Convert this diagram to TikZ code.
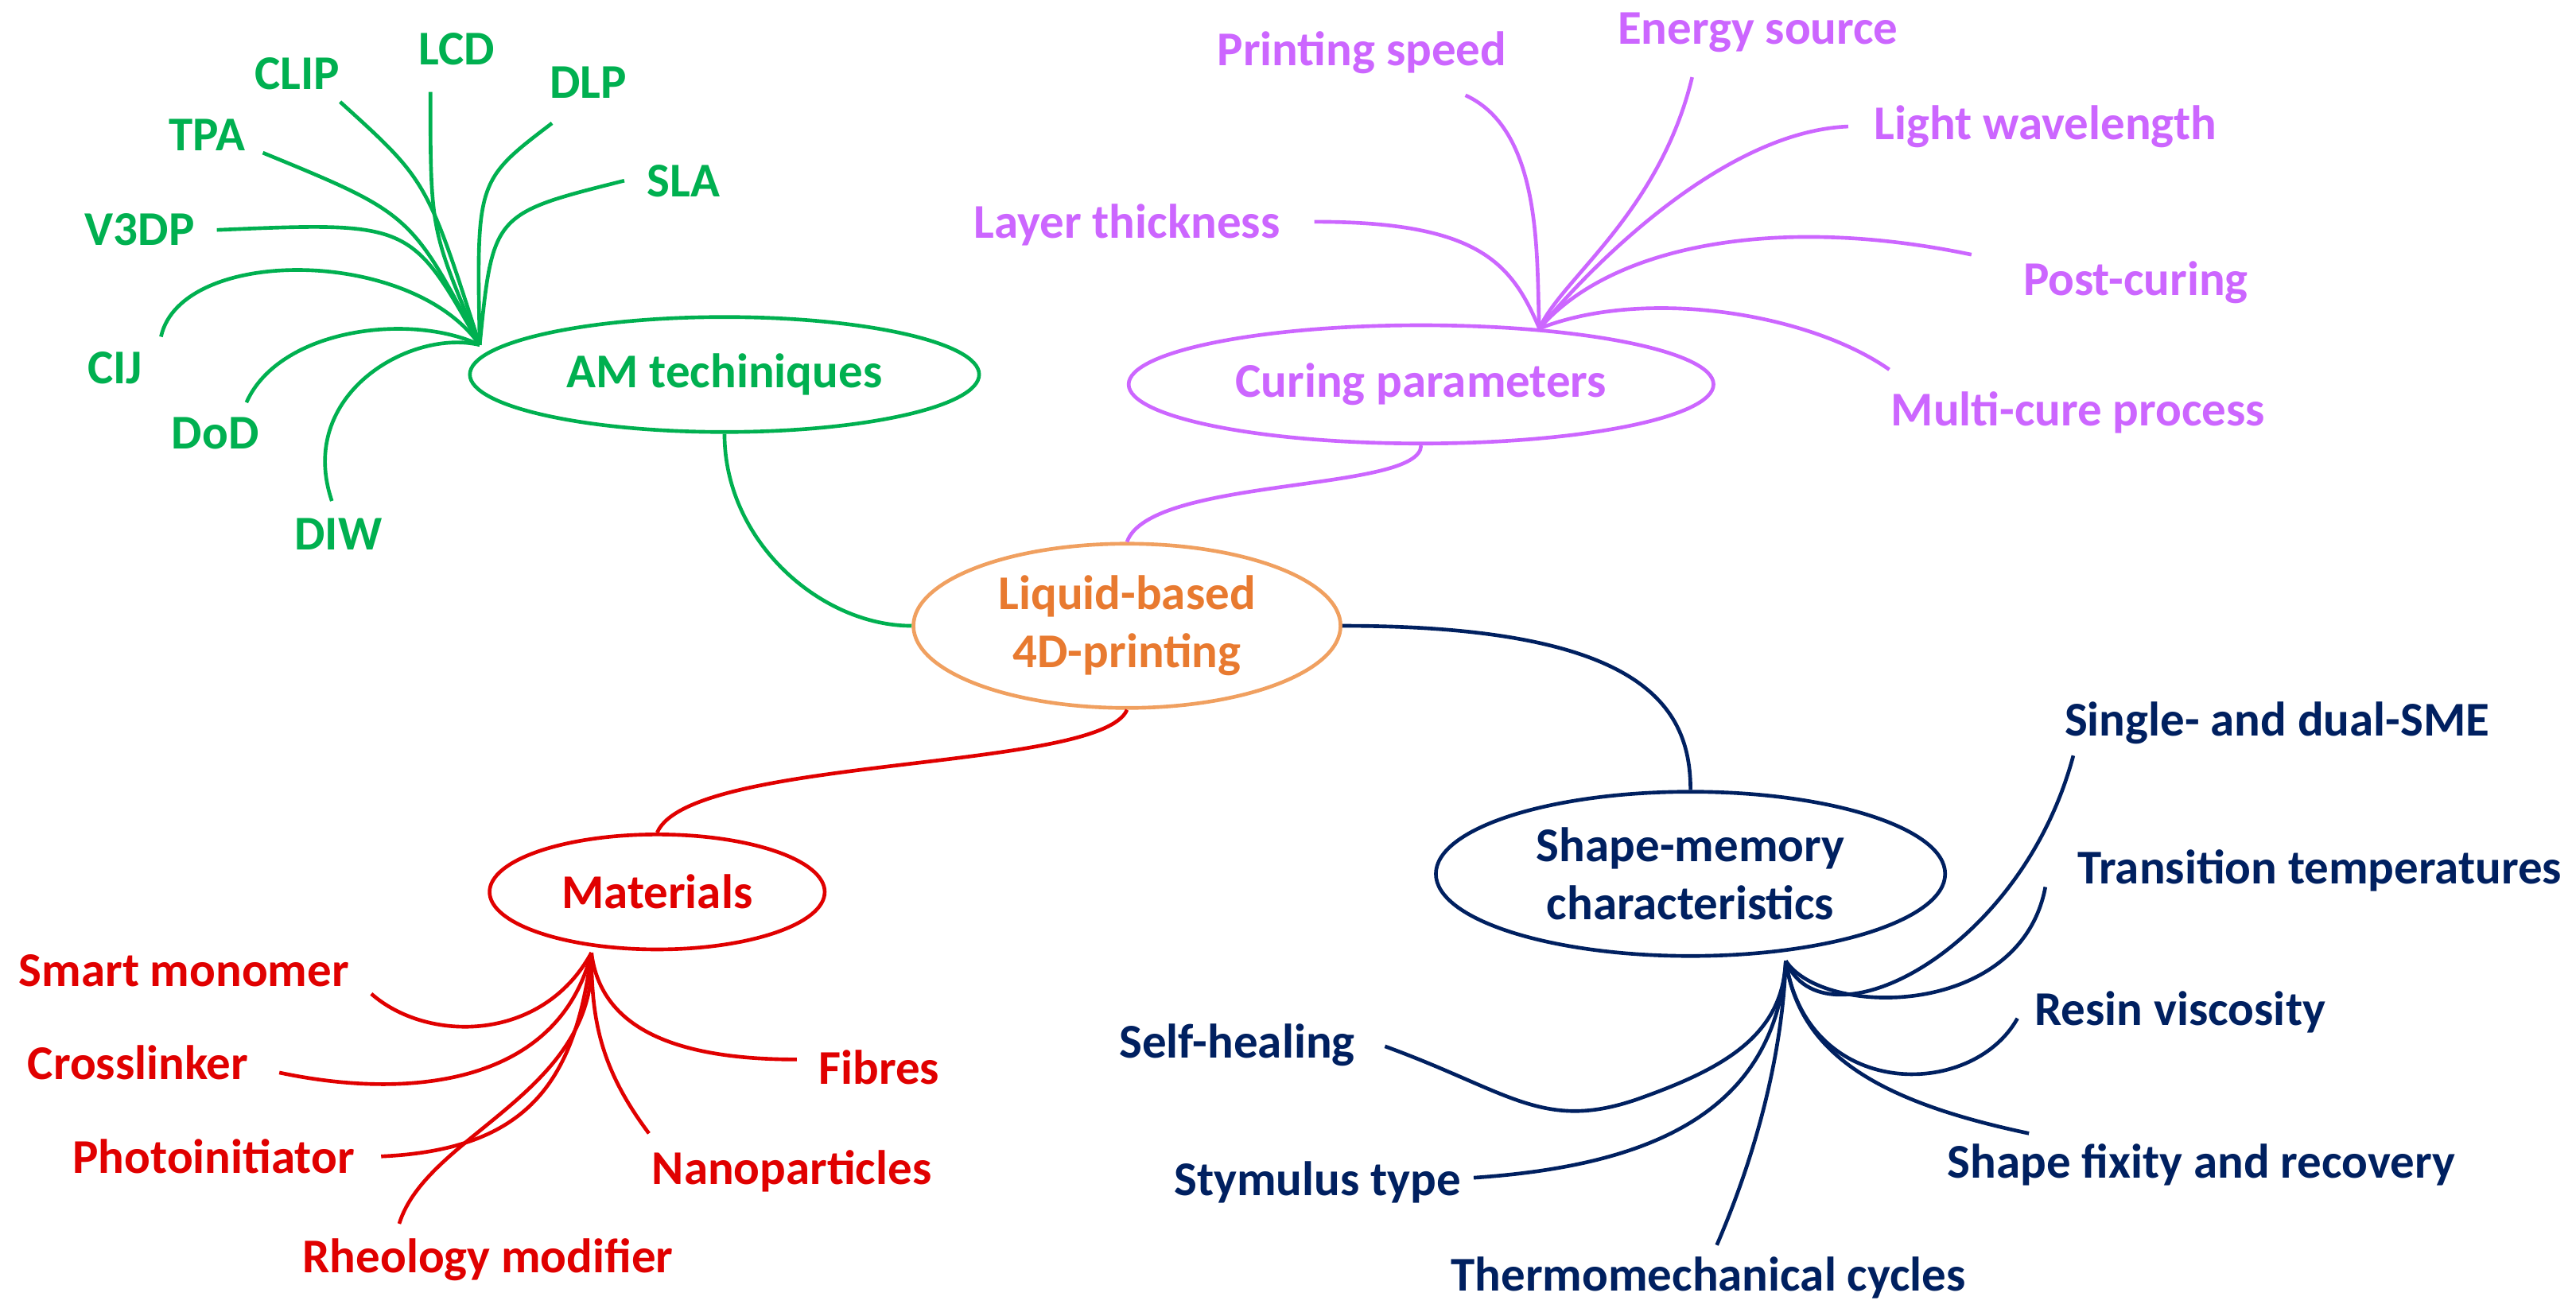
\documentclass[tikz,border=0pt]{standalone}
\usepackage{fontspec}
\setmainfont{Carlito}
\usetikzlibrary{shapes.geometric}
\definecolor{cg}{HTML}{00B050}
\definecolor{cp}{HTML}{CC66FF}
\definecolor{co}{HTML}{F0A060}
\definecolor{cot}{HTML}{E87A30}
\definecolor{cr}{HTML}{E00000}
\definecolor{cn}{HTML}{002060}
\begin{document}
\begin{tikzpicture}[x=0.05cm,y=-0.05cm,
 t/.style={font=\fontsize{42}{50}\selectfont\bfseries,align=center},
 e/.style={draw,ellipse,line width=3.2pt,inner sep=0pt},
 l/.style={line width=3.2pt}]
\useasboundingbox (0,0) rectangle (1568,801);
% central
\node[e,co,minimum width=13cm,minimum height=5cm] (liq) at (686,381) {};
\node[t,cot] at (686,381) {Liquid-based\\4D-printing};
\node[e,cg,minimum width=15.5cm,minimum height=3.5cm] (am) at (441,228) {};
\node[t,cg] at (441,228) {AM techiniques};
\node[e,cp,minimum width=17.8cm,minimum height=3.6cm] (cur) at (865,234) {};
\node[t,cp] at (865,234) {Curing parameters};
\node[e,cr,minimum width=10.2cm,minimum height=3.5cm] (mat) at (400,543) {};
\node[t,cr] at (400,543) {Materials};
\node[e,cn,minimum width=15.5cm,minimum height=5cm] (sm) at (1029,532) {};
\node[t,cn] at (1029,532) {Shape-memory\\characteristics};
% main links
\draw[l,cg] (am.south) .. controls (441,330) and (500,381) .. (liq.west);
\draw[l,cp] (cur.south) .. controls (865,300) and (700,290) .. (liq.north);
\draw[l,cn] (liq.east) .. controls (1000,381) and (1029,430) .. (sm.north);
\draw[l,cr] (liq.south) .. controls (670,470) and (420,460) .. (mat.north);
% AM leaves
\coordinate (h1) at (292,210);
\foreach \txt/\x/\y/\sx/\sy/\ca/\cb in {CLIP/181/45/207/62/260/110,LCD/278/30/262/56/262/140,DLP/358/50/336/75/290/110,SLA/416/110/380/110/300/130,TPA/126/82/160/93/250/130,V3DP/85/140/132/140/250/135}
 {\node[t,cg] at (\x,\y) {\txt};
  \draw[l,cg] (\sx,\sy) .. controls (\ca,\cb) .. (h1);}
\node[t,cg] at (70,224) {CIJ};
\draw[l,cg] (98,205) .. controls (110,150) and (250,150) .. (h1);
\node[t,cg] at (131,264) {DoD};
\draw[l,cg] (150,245) .. controls (170,200) and (250,190) .. (h1);
\node[t,cg] at (206,325) {DIW};
\draw[l,cg] (202,305) .. controls (180,240) and (250,200) .. (h1);
% Curing leaves
\coordinate (h2) at (937,200);
\node[t,cp] at (829,32) {Printing speed};
\draw[l,cp] (892,58) .. controls (940,80) and (935,160) .. (h2);
\node[t,cp] at (1070,20) {Energy source};
\draw[l,cp] (1030,47) .. controls (1010,130) and (950,170) .. (h2);
\node[t,cp] at (1245,77) {Light wavelength};
\draw[l,cp] (1125,77) .. controls (1050,80) and (970,160) .. (h2);
\node[t,cp] at (686,137) {Layer thickness};
\draw[l,cp] (800,135) .. controls (900,135) and (920,160) .. (h2);
\node[t,cp] at (1300,172) {Post-curing};
\draw[l,cp] (1200,155) .. controls (1080,130) and (980,150) .. (h2);
\node[t,cp] at (1265,251) {Multi-cure process};
\draw[l,cp] (1150,225) .. controls (1100,190) and (1000,175) .. (h2);
% Materials leaves
\coordinate (h3) at (360,580);
\node[t,cr] at (112,591) {Smart monomer};
\draw[l,cr] (226,605) .. controls (260,635) and (330,635) .. (h3);
\node[t,cr] at (84,647) {Crosslinker};
\draw[l,cr] (170,653) .. controls (250,670) and (340,660) .. (h3);
\node[t,cr] at (130,704) {Photoinitiator};
\draw[l,cr] (232,704) .. controls (320,700) and (350,660) .. (h3);
\node[t,cr] at (297,767) {Rheology modifier};
\draw[l,cr] (243,745) .. controls (260,690) and (365,665) .. (h3);
\node[t,cr] at (482,713) {Nanoparticles};
\draw[l,cr] (395,690) .. controls (365,650) and (360,620) .. (h3);
\node[t,cr] at (535,650) {Fibres};
\draw[l,cr] (485,645) .. controls (400,645) and (365,620) .. (h3);
% Shape-memory leaves
\coordinate (h4) at (1087,585);
\node[t,cn] at (1386,440) {Single- and dual-SME};
\draw[l,cn] (1262,460) .. controls (1230,580) and (1110,640) .. (h4);
\node[t,cn] at (1412,530) {Transition temperatures};
\draw[l,cn] (1245,540) .. controls (1230,620) and (1110,620) .. (h4);
\node[t,cn] at (1327,616) {Resin viscosity};
\draw[l,cn] (1228,620) .. controls (1200,670) and (1100,670) .. (h4);
\node[t,cn] at (1340,709) {Shape fixity and recovery};
\draw[l,cn] (1235,690) .. controls (1140,670) and (1095,640) .. (h4);
\node[t,cn] at (1040,778) {Thermomechanical cycles};
\draw[l,cn] (1045,758) .. controls (1070,700) and (1085,640) .. (h4);
\node[t,cn] at (802,720) {Stymulus type};
\draw[l,cn] (897,717) .. controls (1000,710) and (1080,680) .. (h4);
\node[t,cn] at (753,636) {Self-healing};
\draw[l,cn] (843,637) .. controls (920,665) and (940,690) .. (1000,668) .. controls (1050,650) and (1085,630) .. (h4);
\end{tikzpicture}
\end{document}
